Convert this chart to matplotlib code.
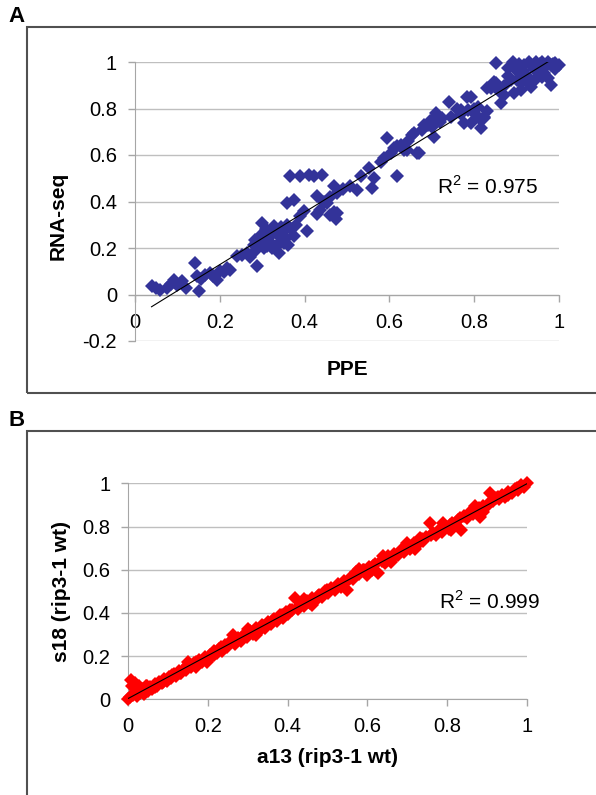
import numpy as np
import matplotlib
matplotlib.use("Agg")
import matplotlib.pyplot as plt

plt.rcParams['font.family'] = ['Liberation Sans', 'DejaVu Sans']
plt.rcParams['mathtext.fontset'] = 'custom'
plt.rcParams['mathtext.rm'] = 'Liberation Sans'

# panel A: PPE vs RNA-seq
ppe = [0.039, 0.050, 0.059, 0.075, 0.085, 0.091, 0.100, 0.110, 0.120, 0.142,
       0.146, 0.150, 0.155, 0.165, 0.177, 0.185, 0.193, 0.200, 0.210, 0.217,
       0.225, 0.240, 0.252, 0.264, 0.272, 0.280, 0.285, 0.288, 0.290, 0.295,
       0.299, 0.300, 0.305, 0.311, 0.318, 0.327, 0.330, 0.335, 0.340, 0.345,
       0.345, 0.351, 0.355, 0.359, 0.362, 0.366, 0.374, 0.374, 0.380, 0.390,
       0.390, 0.398, 0.406, 0.410, 0.422, 0.429, 0.430, 0.437, 0.441, 0.445,
       0.453, 0.460, 0.460, 0.469, 0.470, 0.475, 0.477, 0.477, 0.490, 0.508,
       0.524, 0.532, 0.552, 0.560, 0.563, 0.580, 0.587, 0.595, 0.603, 0.619,
       0.619, 0.634, 0.642, 0.654, 0.658, 0.666, 0.670, 0.678, 0.681, 0.690,
       0.705, 0.709, 0.713, 0.725, 0.740, 0.745, 0.760, 0.768, 0.776, 0.784,
       0.785, 0.792, 0.792, 0.800, 0.808, 0.816, 0.823, 0.824, 0.831, 0.839,
       0.847, 0.851, 0.851, 0.863, 0.870, 0.880, 0.887, 0.891, 0.894, 0.902,
       0.910, 0.910, 0.915, 0.918, 0.925, 0.930, 0.934, 0.940, 0.945, 0.950,
       0.955, 0.960, 0.965, 0.970, 0.975, 0.981, 0.985, 0.990, 1.000,
       0.880, 0.900, 0.905, 0.920, 0.935, 0.955, 0.965, 0.975, 0.960, 0.945,
       0.925, 0.990, 0.980, 0.870, 0.860, 0.282, 0.300, 0.315, 0.322, 0.338,
       0.348, 0.358, 0.368, 0.310, 0.610, 0.628, 0.645, 0.695, 0.700, 0.720,
       0.770, 0.800, 0.812, 0.830]
rnaseq = [0.036, 0.030, 0.021, 0.028, 0.045, 0.064, 0.040, 0.057, 0.030, 0.136,
          0.079, 0.014, 0.065, 0.085, 0.093, 0.080, 0.064, 0.100, 0.095, 0.114,
          0.105, 0.165, 0.170, 0.179, 0.160, 0.215, 0.190, 0.122, 0.230, 0.240,
          0.308, 0.260, 0.200, 0.207, 0.250, 0.293, 0.270, 0.260, 0.180, 0.230,
          0.290, 0.222, 0.245, 0.393, 0.215, 0.508, 0.408, 0.250, 0.300, 0.508,
          0.336, 0.360, 0.272, 0.515, 0.508, 0.422, 0.345, 0.365, 0.515, 0.400,
          0.393, 0.420, 0.340, 0.465, 0.355, 0.325, 0.350, 0.436, 0.455, 0.465,
          0.451, 0.508, 0.544, 0.458, 0.501, 0.570, 0.587, 0.672, 0.608, 0.637,
          0.508, 0.622, 0.622, 0.687, 0.695, 0.609, 0.608, 0.708, 0.730, 0.730,
          0.678, 0.781, 0.773, 0.760, 0.830, 0.765, 0.800, 0.794, 0.738, 0.851,
          0.794, 0.851, 0.737, 0.780, 0.808, 0.717, 0.765, 0.758, 0.887, 0.888,
          0.916, 0.994, 0.908, 0.824, 0.860, 0.940, 0.923, 1.001, 0.866, 0.923,
          0.910, 0.880, 0.960, 0.985, 0.940, 1.000, 0.894, 0.970, 1.000, 0.980,
          0.950, 1.000, 0.951, 0.985, 0.930, 0.901, 0.990, 0.970, 0.985,
          0.975, 0.960, 0.990, 0.945, 0.985, 0.990, 0.975, 1.000, 0.935, 0.925,
          0.915, 0.995, 0.985, 0.895, 0.870, 0.235, 0.215, 0.230, 0.200, 0.215,
          0.270, 0.300, 0.280, 0.280, 0.630, 0.645, 0.660, 0.745, 0.720, 0.740,
          0.775, 0.800, 0.760, 0.790]

# panel B: a13 vs s18 (rip3-1 wt)
a13 = [0.000, 0.004, 0.006, 0.010, 0.012, 0.016, 0.020, 0.022, 0.028, 0.030,
       0.035, 0.040, 0.045, 0.050, 0.055, 0.060, 0.066, 0.072, 0.078, 0.085,
       0.090, 0.096, 0.102, 0.108, 0.115, 0.120, 0.127, 0.133, 0.140, 0.146,
       0.152, 0.158, 0.165, 0.172, 0.178, 0.185, 0.192, 0.198, 0.204, 0.210,
       0.216, 0.222, 0.228, 0.235, 0.242, 0.248, 0.255, 0.262, 0.268, 0.275,
       0.282, 0.290, 0.298, 0.306, 0.312, 0.320, 0.328, 0.335, 0.342, 0.350,
       0.358, 0.365, 0.372, 0.380, 0.388, 0.395, 0.402, 0.410, 0.418, 0.425,
       0.432, 0.440, 0.448, 0.455, 0.462, 0.470, 0.478, 0.486, 0.494, 0.502,
       0.510, 0.518, 0.526, 0.534, 0.542, 0.548, 0.556, 0.564, 0.572, 0.580,
       0.588, 0.596, 0.604, 0.612, 0.620, 0.628, 0.636, 0.644, 0.652, 0.660,
       0.668, 0.676, 0.684, 0.692, 0.700, 0.708, 0.716, 0.724, 0.732, 0.740,
       0.748, 0.757, 0.765, 0.772, 0.780, 0.788, 0.796, 0.804, 0.812, 0.820,
       0.828, 0.834, 0.842, 0.850, 0.858, 0.866, 0.874, 0.883, 0.890, 0.898,
       0.908, 0.915, 0.922, 0.930, 0.938, 0.946, 0.954, 0.962, 0.970, 0.978,
       0.986, 0.994, 1.000,
       0.025, 0.048, 0.068, 0.088, 0.110, 0.130, 0.150, 0.170, 0.190, 0.214,
       0.232, 0.250, 0.272, 0.295, 0.315, 0.338, 0.362, 0.385, 0.405, 0.428,
       0.452, 0.475, 0.498, 0.522, 0.545, 0.568, 0.592, 0.615, 0.640, 0.664,
       0.688, 0.712, 0.736, 0.760, 0.784, 0.808, 0.832, 0.856, 0.880, 0.904,
       0.928, 0.952, 0.976, 0.300, 0.320, 0.440, 0.460, 0.580, 0.600, 0.700,
       0.720, 0.790, 0.810, 0.870, 0.890, 0.150, 0.170, 0.640, 0.660]
s18 = [0.000, 0.012, 0.090, 0.060, 0.020, 0.075, 0.045, 0.015, 0.062, 0.030,
       0.050, 0.025, 0.060, 0.040, 0.055, 0.048, 0.070, 0.060, 0.080, 0.075,
       0.095, 0.085, 0.105, 0.098, 0.118, 0.110, 0.130, 0.122, 0.142, 0.135,
       0.155, 0.148, 0.168, 0.160, 0.182, 0.175, 0.195, 0.172, 0.205, 0.200,
       0.222, 0.214, 0.235, 0.225, 0.250, 0.240, 0.265, 0.298, 0.258, 0.285,
       0.272, 0.300, 0.290, 0.318, 0.302, 0.328, 0.318, 0.345, 0.332, 0.358,
       0.348, 0.372, 0.362, 0.388, 0.378, 0.402, 0.395, 0.415, 0.470, 0.420,
       0.438, 0.430, 0.455, 0.445, 0.470, 0.460, 0.485, 0.475, 0.500, 0.492,
       0.515, 0.508, 0.532, 0.522, 0.548, 0.505, 0.560, 0.555, 0.590, 0.578,
       0.600, 0.588, 0.612, 0.598, 0.628, 0.583, 0.640, 0.632, 0.665, 0.650,
       0.672, 0.668, 0.690, 0.682, 0.705, 0.698, 0.725, 0.715, 0.745, 0.732,
       0.752, 0.815, 0.770, 0.762, 0.785, 0.775, 0.800, 0.790, 0.818, 0.808,
       0.832, 0.784, 0.848, 0.840, 0.865, 0.858, 0.880, 0.846, 0.895, 0.888,
       0.954, 0.918, 0.930, 0.925, 0.945, 0.938, 0.960, 0.955, 0.975, 0.968,
       0.990, 0.985, 1.000,
       0.040, 0.062, 0.055, 0.082, 0.112, 0.120, 0.160, 0.172, 0.185, 0.205,
       0.240, 0.255, 0.270, 0.305, 0.310, 0.338, 0.365, 0.390, 0.412, 0.428,
       0.450, 0.478, 0.505, 0.520, 0.540, 0.575, 0.598, 0.618, 0.648, 0.660,
       0.692, 0.712, 0.740, 0.760, 0.790, 0.805, 0.838, 0.852, 0.885, 0.905,
       0.935, 0.948, 0.980, 0.325, 0.300, 0.465, 0.435, 0.605, 0.575, 0.725,
       0.695, 0.815, 0.785, 0.895, 0.865, 0.172, 0.150, 0.665, 0.635]

xticks = [0, 0.2, 0.4, 0.6, 0.8, 1]
xtick_labels = ['0', '0.2', '0.4', '0.6', '0.8', '1']
yticks_a = [-0.2, 0, 0.2, 0.4, 0.6, 0.8, 1]
ytick_labels_a = ['-0.2', '0', '0.2', '0.4', '0.6', '0.8', '1']
yticks_b = [0, 0.2, 0.4, 0.6, 0.8, 1]
ytick_labels_b = ['0', '0.2', '0.4', '0.6', '0.8', '1']

W, H = 596, 795
fig = plt.figure(figsize=(W / 100, H / 100), dpi=100)

grid_c = '#bfbfbf'
axis_c = '#a6a6a6'


def style(ax, yt, ytl):
    ax.set_xlim(0, 1)
    ax.set_xticks(xticks)
    ax.set_xticklabels(xtick_labels)
    ax.set_yticks(yt)
    ax.set_yticklabels(ytl)
    for s in ['top', 'right']:
        ax.spines[s].set_visible(False)
    ax.spines['bottom'].set_position(('data', 0))
    ax.spines['left'].set_color(axis_c)
    ax.spines['bottom'].set_color(axis_c)
    ax.yaxis.grid(True, color=grid_c, linewidth=1)
    ax.set_axisbelow(True)
    ax.tick_params(axis='both', direction='out', length=5, width=1,
                   color=axis_c, labelsize=14.5, pad=8)


def panel(ax, x, y, color, r2, r2x, r2y):
    ax.plot(x, y, linestyle='none', marker='D', ms=7, color=color,
            mec=color, mew=0, clip_on=False, zorder=3)
    k, b = np.polyfit(x, y, 1)
    xs = np.array([min(x), max(x)])
    ax.plot(xs, k * xs + b, color='black', linewidth=0.8, zorder=4)
    ax.text(r2x, r2y, r2, fontsize=15, ha='left', va='baseline')


# panel A
axA = fig.add_axes([135 / W, 1 - 341 / H, 424 / W, 279 / H])
axA.set_ylim(-0.2, 1)
style(axA, yticks_a, ytick_labels_a)
panel(axA, ppe, rnaseq, '#333399', r'R$^\mathregular{2}$ = 0.975', 0.712, 0.433)
axA.set_xlabel('PPE', fontsize=15, fontweight='bold')
axA.xaxis.set_label_coords(0.5, -0.068)
axA.set_ylabel('RNA-seq', fontsize=15, fontweight='bold')
axA.yaxis.set_label_coords(-0.160, 0.448)

# panel B
axB = fig.add_axes([128.3 / W, 1 - 699.3 / H, 398.4 / W, 216 / H])
axB.set_ylim(0, 1)
style(axB, yticks_b, ytick_labels_b)
panel(axB, a13, s18, '#ff0000', r'R$^\mathregular{2}$ = 0.999', 0.78, 0.42)
axB.set_xlabel('a13 (rip3-1 wt)', fontsize=15, fontweight='bold')
axB.xaxis.set_label_coords(0.5, -0.225)
axB.set_ylabel('s18 (rip3-1 wt)', fontsize=15, fontweight='bold')
axB.yaxis.set_label_coords(-0.144, 0.5)

# panel frames and letters
fig.add_artist(plt.Rectangle((27 / W, 1 - 393 / H), 1, 366 / H, fill=False,
                             edgecolor='#505050', linewidth=1.5,
                             transform=fig.transFigure))
fig.add_artist(plt.Rectangle((27 / W, -0.1), 1, 1 - 431 / H + 0.1, fill=False,
                             edgecolor='#505050', linewidth=1.5,
                             transform=fig.transFigure))
fig.text(8 / W, 1 - 17 / H, 'A', fontsize=16, fontweight='bold', va='center')
fig.text(9 / W, 1 - 420 / H, 'B', fontsize=16, fontweight='bold', va='center')

fig.savefig('out.png', dpi=100)
